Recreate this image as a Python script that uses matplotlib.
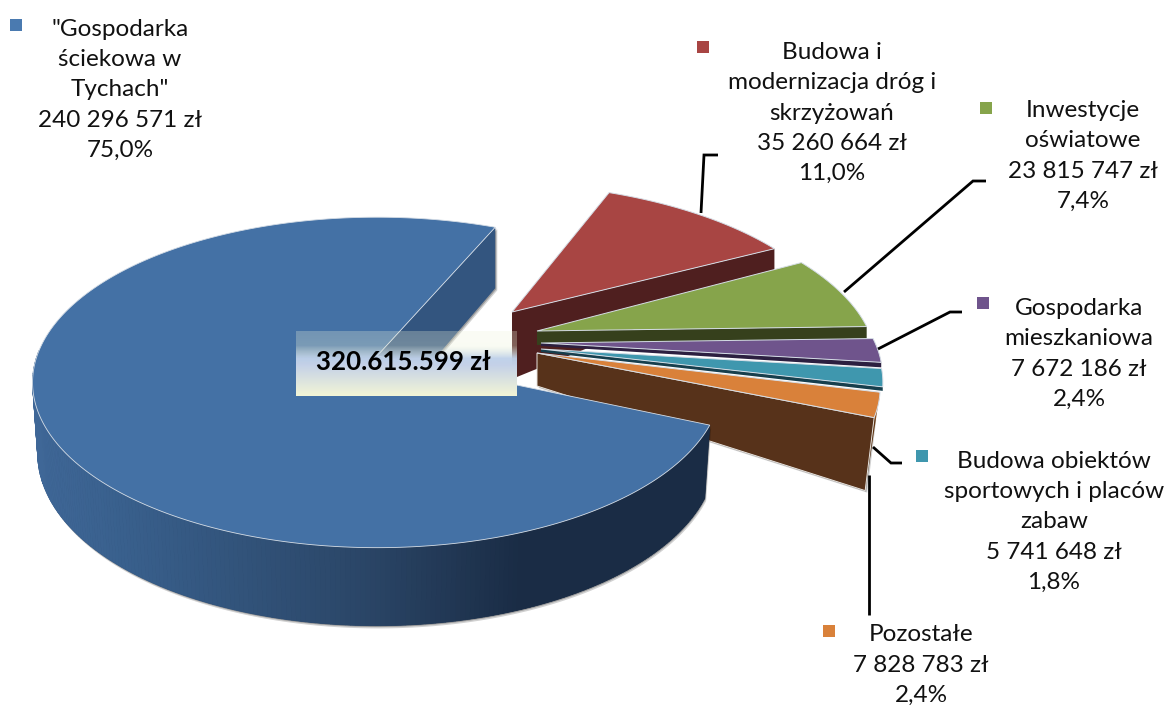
import numpy as np
import matplotlib
matplotlib.use("Agg")
import matplotlib.pyplot as plt
from matplotlib.patches import Polygon
from matplotlib.colors import to_rgb
import matplotlib.patheffects as pe

# ---- data ----
names = ['"Gospodarka\nściekowa w\nTychach"', 'Budowa i\nmodernizacja dróg i\nskrzyżowań',
         'Inwestycje\noświatowe', 'Gospodarka\nmieszkaniowa',
         'Budowa obiektów\nsportowych i placów\nzabaw', 'Pozostałe']
values = [240296571, 35260664, 23815747, 7672186, 5741648, 7828783]
percents = ['75,0%', '11,0%', '7,4%', '2,4%', '1,8%', '2,4%']
total_label = '320.615.599 zł'

# ---- styles ----
top_colors = ['#4471a5', '#a84543', '#86a44b', '#6f548c', '#3f97ae', '#d9813a']
wall_colors = ['#33557f', '#4f1f1f', '#36401c', '#2c1f40', '#173f4d', '#57321a']
marker_colors = ['#4a7ab0', '#a84543', '#86a44b', '#6f548c', '#3f97ae', '#d9813a']
marker_pos = [(16, 25), (703, 47), (986, 108), (983, 303), (922, 456), (829, 631)]
label_pos = [(120, 90), (832, 113), (1083, 156), (1079, 354), (1054, 522), (921, 665)]
# apex in px, depth at apex, depth at rim, x drift of the wall's lower edge at rim,
# radial scale and vertical nudge of the rim
slice_style = {
    1: dict(apex=(512, 312), d0=67, d1=23, drift=0, scale=1.0, rim_dy=-1),
    2: dict(apex=(537, 331), d0=14, d1=12, drift=0, scale=0.995, rim_dy=-4),
    3: dict(apex=(541, 343), d0=3, d1=5, drift=0, scale=0.99, rim_dy=-4),
    4: dict(apex=(541, 349), d0=3, d1=4, drift=0, scale=0.985, rim_dy=-4),
    5: dict(apex=(537, 353), d0=33, d1=73, drift=9, scale=0.985, rim_dy=-3),
}
leaders = [[(701, 213), (704, 155), (718, 155)],
           [(844, 292), (973, 181), (986, 181)],
           [(878, 349), (950, 312), (962, 312)],
           [(873, 447), (891, 463), (902, 463)],
           [(869, 475), (869, 615)]]

# ---- projection of the tilted disc ----
CX, CY, A, B, K = 377.0, 356.0, 340.0, 161.0, 0.16
ROT = 23.5
DEPTH = 70.0

def project(u, v):
    f = 1.0 / (1.0 + K * v)
    return CX + A * u * f, CY - B * v * f

def unproject(x, y):
    v = (CY - y) / (B - K * (CY - y))
    u = (x - CX) * (1 + K * v) / A
    return u, v

def rim(theta, u0=0.0, v0=0.0, r=1.0):
    t = np.radians(theta)
    return project(u0 + r * np.sin(t), v0 + r * np.cos(t))

plt.rcParams['font.family'] = ['Lato', 'DejaVu Sans']
fig = plt.figure(figsize=(11.68, 7.11), dpi=100)
ax = fig.add_axes([0, 0, 1, 1])
ax.set_xlim(0, 1168)
ax.set_ylim(711, 0)
ax.axis('off')

fractions = np.array(values) / sum(values) * 360.0
ends = ROT + np.cumsum(np.r_[0, fractions[1:]])

def shadow(dx=1.5, dy=-1.5):
    return [pe.SimplePatchShadow(offset=(dx, dy), alpha=0.18, shadow_rgbFace='k'),
            pe.SimplePatchShadow(offset=(dx * .5, dy * .5), alpha=0.25, shadow_rgbFace='k'),
            pe.Normal()]

EDGE = '#d5dde6'

# blue slice: hidden radial wall at the back
end_blue = ROT + 360
bx, by = rim(ROT)
vb = (CY - by) / (B - K * (CY - by))
db = DEPTH / (1 + K * vb)
ax.add_patch(Polygon([(bx, by), (bx, by + db), (CX, CY + DEPTH), (CX, CY)], closed=True,
                     fc=wall_colors[0], ec='none', zorder=1, path_effects=shadow()))

# small exploded slices, back to front
z = 2
for i in range(1, 6):
    st = slice_style[i]
    u0, v0 = unproject(*st['apex'])
    th = np.linspace(ends[i - 1], ends[i], 40)
    pts = np.array([rim(t, u0, v0, st['scale']) for t in th]) + [0, st['rim_dy']]
    ax_, ay_ = st['apex']
    ex, ey = pts[-1]
    wall = [(ax_, ay_), (ex, ey), (ex - st['drift'], ey + st['d1']), (ax_, ay_ + st['d0'])]
    effects = shadow() if i == 5 else None
    if i == 5:
        bottom0 = (pts[0][0] - st['drift'] - 2, pts[0][1] + st['d1'])
        side = list(map(tuple, pts)) + [(ex - st['drift'], ey + st['d1']), bottom0]
        ax.add_patch(Polygon(side, closed=True, fc='#8a4e1e', ec='none', zorder=z))
    ax.add_patch(Polygon(wall, closed=True, fc=wall_colors[i], ec='#e8e4df' if i == 5 else 'none',
                         lw=0.7 if i == 5 else 0, zorder=z, path_effects=effects))
    face = [st['apex']] + list(map(tuple, pts))
    ax.add_patch(Polygon(face, closed=True, fc=top_colors[i], ec=EDGE, lw=0.7, zorder=z + 0.5))
    z += 1

# blue slice: front wall with gradient
start_blue = ends[-1]
wall_th = np.linspace(start_blue, 272, 220)
top_pts = np.array([rim(t) for t in wall_th])
vs = np.cos(np.radians(wall_th))
deps = 70 - 8 * vs
bot_pts = np.c_[CX + (top_pts[:, 0] - CX) * 0.985, top_pts[:, 1] + deps]
outline = np.r_[top_pts, bot_pts[::-1]]
ax.add_patch(Polygon(outline, closed=True, fc='#1a2d47', ec='none', zorder=10, path_effects=shadow(1, -2)))
stops_x = [35, 120, 370, 520, 720]
stops_c = np.array([to_rgb(c) for c in ['#3f6797', '#39608d', '#2a4566', '#1a2c45', '#1a2c45']])
for j in range(len(wall_th) - 1):
    mx = (top_pts[j, 0] + top_pts[j + 1, 0]) / 2
    col = [np.interp(mx, stops_x, stops_c[:, c]) for c in range(3)]
    q = [top_pts[j], top_pts[j + 1], bot_pts[j + 1], bot_pts[j]]
    ax.add_patch(Polygon(q, closed=True, fc=col, ec=col, lw=0.6, zorder=10.5))

# blue slice: top face
th = np.linspace(start_blue, end_blue, 400)
face = [(CX, CY)] + [rim(t) for t in th]
ax.add_patch(Polygon(face, closed=True, fc=top_colors[0], ec=EDGE, lw=0.6, zorder=11))

# leader lines
for seg in leaders:
    xs, ys = zip(*seg)
    ax.plot(xs, ys, color='black', lw=2.0, solid_capstyle='butt', solid_joinstyle='miter', zorder=9)

# central label box
t_stops = [0.0, 0.22, 0.42, 0.52, 1.0]
rgba_stops = np.array([[.94, .96, .86, .28], [.94, .96, .86, .32], [.75, .82, .92, .97],
                       [.77, .82, .91, 1.0], [.95, .96, .84, 1.0]])
ts = np.linspace(0, 1, 65)
grad = np.stack([np.interp(ts, t_stops, rgba_stops[:, c]) for c in range(4)], axis=1)[:, None, :]
ax.imshow(grad, extent=(296, 517, 396, 331), aspect='auto', zorder=12, interpolation='bilinear')
ax.set_xlim(0, 1168)
ax.set_ylim(711, 0)
ax.text(403, 362, total_label, ha='center', va='center', fontsize=18.6, fontweight='bold',
        color='black', zorder=13)

# legend keys + data labels
for i in range(6):
    mx, my = marker_pos[i]
    ax.scatter([mx], [my], marker='s', s=75, color=marker_colors[i], linewidths=0, zorder=14)
    val = f"{values[i]:,}".replace(',', ' ')
    txt = f"{names[i]}\n{val} zł\n{percents[i]}"
    lx, ly = label_pos[i]
    ax.text(lx, ly, txt, ha='center', va='center', multialignment='center',
            fontsize=17.5, linespacing=1.53, color='#111111', zorder=14)

fig.savefig('out.png', dpi=100)
